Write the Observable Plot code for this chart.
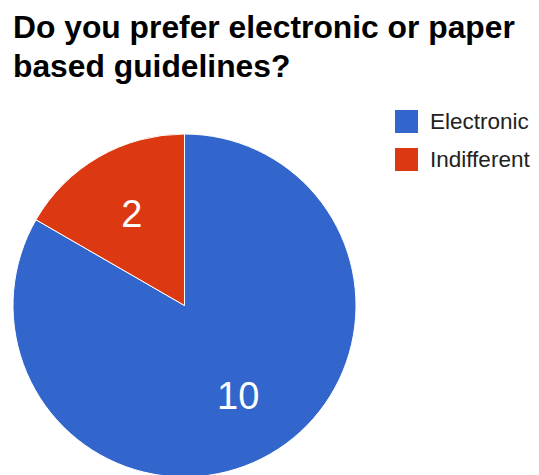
<!DOCTYPE html>
<html>
<head>
<meta charset="utf-8">
<script src="https://cdn.jsdelivr.net/npm/d3@7"></script>
<script src="https://cdn.jsdelivr.net/npm/@observablehq/plot@0.6"></script>
<style>
  html, body { margin: 0; padding: 0; background: #fff; overflow: hidden; }
  #wrap { position: relative; width: 539px; height: 475px; overflow: hidden; }
  #title {
    box-sizing: border-box; height: 93px; padding: 8px 0 0 13px; width: 535px;
    font: bold 31.8px/39px "Liberation Sans", Arial, sans-serif; color: #000;
  }
  #legend { position: absolute; left: 395px; top: 110px; }
  #legend .lg-swatches { font-family: "Liberation Sans", Arial, sans-serif !important; font-size: 22.5px !important; color: #222 !important; margin: 0 !important; }
  #legend .lg-swatch { padding-bottom: 15px !important; line-height: 23px !important; }
  #legend .lg-swatch > svg { margin-right: 12px !important; }
</style>
</head>
<body>
<div id="wrap">
  <div id="title"></div>
  <div id="chart"></div>
  <div id="legend"></div>
</div>
<script>
const titleText = "Do you prefer electronic or paper based guidelines?";
const categories = ["Electronic", "Indifferent"];
const counts = [10, 2];
const colors = ["#3366cc", "#dc3912"];

document.getElementById("title").textContent = titleText;

const rows = categories.map((c, i) => ({category: c, count: counts[i]}));
const arcs = d3.pie().sort(null).value(d => d.count)(rows)
  .map(a => ({...a.data, startAngle: a.startAngle, endAngle: a.endAngle, mid: (a.startAngle + a.endAngle) / 2}));

const labelR = 0.62;

function pieMark(index, scales, values, dimensions) {
  const cx = scales.x(0), cy = scales.y(0);
  const r = Math.abs(scales.x(1) - scales.x(0));
  const arc = d3.arc().innerRadius(0).outerRadius(r);
  const g = d3.create("svg:g").attr("transform", `translate(${cx},${cy})`);
  g.selectAll("path").data(arcs).join("path")
    .attr("d", d => arc(d))
    .attr("fill", d => scales.color(d.category))
    .attr("stroke", "#fff")
    .attr("stroke-width", 1);
  return g.node();
}

const plot = Plot.plot({
  width: 539,
  height: 382,
  marginLeft: 13,
  marginRight: 183,
  marginTop: 43,
  marginBottom: 0,
  x: {domain: [-1, 1], axis: null},
  y: {domain: [-1, 1], axis: null},
  color: {type: "ordinal", domain: categories, range: colors},
  style: {background: "transparent", overflow: "visible"},
  marks: [
    pieMark,
    Plot.text(arcs, {
      x: d => labelR * Math.sin(d.mid),
      y: d => labelR * Math.cos(d.mid),
      text: d => String(d.count),
      fill: "#fff",
      fontSize: 38,
      fontFamily: "Liberation Sans, Arial, sans-serif"
    })
  ]
});
document.getElementById("chart").appendChild(plot);

const legend = Plot.legend({
  color: {type: "ordinal", domain: categories, range: colors},
  legend: "swatches",
  swatchSize: 23,
  columns: 1,
  className: "lg"
});
document.getElementById("legend").appendChild(legend);
</script>
</body>
</html>
